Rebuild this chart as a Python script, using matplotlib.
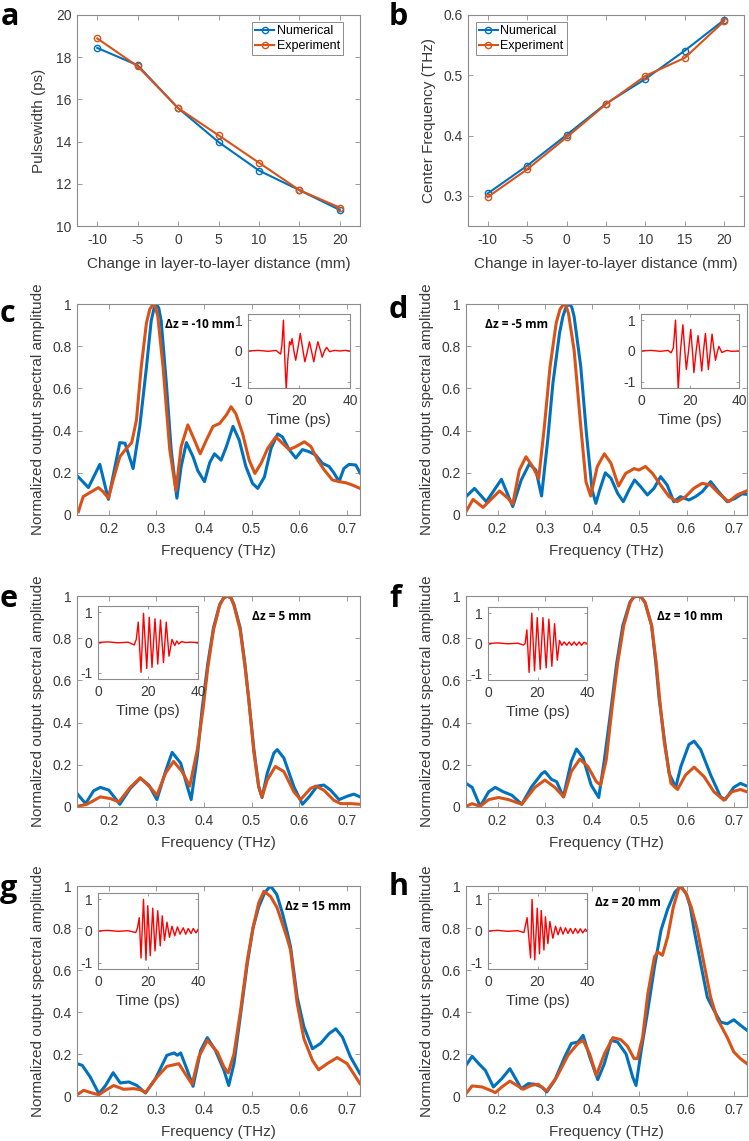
import numpy as np
import matplotlib.pyplot as plt

plt.rcParams['font.family'] = ['Liberation Sans', 'DejaVu Sans']
plt.rcParams['axes.unicode_minus'] = False

W, H = 749, 1141
BLUE = '#0072BD'
ORANGE = '#D95319'
EDGE = '#8c8c8c'
TXT = '#3a3a3a'

# ---- panel a / b: summary vs change in layer distance
dz = [-10, -5, 0, 5, 10, 15, 20]
dz_labels = ['-10', '-5', '0', '5', '10', '15', '20']
pw_num = [18.44, 17.62, 15.59, 13.98, 12.63, 11.70, 10.76]
pw_exp = [18.89, 17.57, 15.59, 14.30, 13.00, 11.70, 10.87]
cf_num = [0.304, 0.350, 0.401, 0.453, 0.494, 0.541, 0.592]
cf_exp = [0.298, 0.344, 0.397, 0.452, 0.499, 0.529, 0.590]

# ---- spectra (freq in THz, normalized amplitude)
c_num_f = [0.136, 0.157, 0.181, 0.199, 0.223, 0.234, 0.251, 0.265, 0.279, 0.289, 0.295, 0.300, 0.305, 0.310, 0.321,
           0.331, 0.343, 0.352, 0.363, 0.377, 0.387, 0.401, 0.412, 0.422, 0.436, 0.447, 0.461, 0.474, 0.488, 0.502,
           0.513, 0.527, 0.541, 0.555, 0.565, 0.579, 0.593, 0.607, 0.621, 0.635, 0.649, 0.663, 0.673, 0.684, 0.694,
           0.705, 0.719, 0.728]
c_num = [0.18, 0.13, 0.24, 0.074, 0.343, 0.34, 0.22, 0.42, 0.70, 0.92, 0.98, 1.0, 0.98, 0.92, 0.62,
         0.31, 0.08, 0.23, 0.343, 0.276, 0.21, 0.158, 0.248, 0.29, 0.26, 0.324, 0.42, 0.355, 0.23, 0.15,
         0.126, 0.18, 0.316, 0.384, 0.37, 0.31, 0.27, 0.31, 0.30, 0.284, 0.245, 0.23, 0.20, 0.158, 0.22,
         0.24, 0.237, 0.2]
c_exp_f = [0.136, 0.146, 0.160, 0.178, 0.188, 0.199, 0.209, 0.223, 0.237, 0.248, 0.258, 0.268, 0.279, 0.286, 0.293,
           0.298, 0.303, 0.314, 0.328, 0.341, 0.352, 0.366, 0.380, 0.392, 0.405, 0.419, 0.433, 0.447, 0.457, 0.467,
           0.481, 0.495, 0.507, 0.520, 0.534, 0.551, 0.565, 0.579, 0.593, 0.611, 0.625, 0.639, 0.653, 0.670, 0.684,
           0.698, 0.712, 0.728]
c_exp = [0.016, 0.087, 0.106, 0.13, 0.11, 0.08, 0.166, 0.276, 0.316, 0.343, 0.45, 0.70, 0.91, 0.975, 1.0,
         0.985, 0.94, 0.70, 0.31, 0.115, 0.324, 0.427, 0.355, 0.29, 0.355, 0.42, 0.434, 0.474, 0.513, 0.48,
         0.387, 0.26, 0.197, 0.245, 0.316, 0.37, 0.34, 0.31, 0.324, 0.347, 0.324, 0.26, 0.213, 0.166, 0.158,
         0.153, 0.142, 0.126]

d_num_f = [0.133, 0.151, 0.176, 0.208, 0.232, 0.250, 0.267, 0.281, 0.293, 0.306, 0.317, 0.331, 0.338, 0.345, 0.352,
           0.357, 0.362, 0.376, 0.388, 0.400, 0.408, 0.416, 0.428, 0.440, 0.454, 0.466, 0.478, 0.490, 0.503, 0.517,
           0.531, 0.545, 0.559, 0.573, 0.587, 0.605, 0.619, 0.633, 0.651, 0.668, 0.686, 0.703, 0.717, 0.728]
d_num = [0.087, 0.126, 0.063, 0.169, 0.04, 0.166, 0.242, 0.213, 0.09, 0.355, 0.624, 0.861, 0.94, 0.987, 1.0,
         0.985, 0.94, 0.703, 0.387, 0.118, 0.055, 0.118, 0.20, 0.174, 0.103, 0.063, 0.118, 0.166, 0.134, 0.095,
         0.126, 0.182, 0.142, 0.063, 0.087, 0.071, 0.087, 0.11, 0.158, 0.11, 0.063, 0.079, 0.10, 0.098]
d_exp_f = [0.133, 0.148, 0.169, 0.186, 0.204, 0.222, 0.232, 0.246, 0.260, 0.274, 0.287, 0.299, 0.311, 0.324, 0.332,
           0.340, 0.345, 0.350, 0.362, 0.376, 0.387, 0.397, 0.411, 0.426, 0.440, 0.456, 0.471, 0.489, 0.499, 0.513,
           0.528, 0.545, 0.563, 0.580, 0.598, 0.615, 0.633, 0.651, 0.668, 0.689, 0.707, 0.728]
d_exp = [0.016, 0.074, 0.036, 0.074, 0.114, 0.079, 0.052, 0.213, 0.276, 0.23, 0.174, 0.42, 0.703, 0.91, 0.975,
         1.0, 0.99, 0.955, 0.78, 0.42, 0.158, 0.09, 0.23, 0.29, 0.245, 0.137, 0.197, 0.22, 0.213, 0.23,
         0.197, 0.142, 0.087, 0.063, 0.087, 0.126, 0.15, 0.142, 0.103, 0.063, 0.095, 0.115]

e_num_f = [0.133, 0.151, 0.168, 0.182, 0.200, 0.223, 0.245, 0.266, 0.284, 0.301, 0.319, 0.333, 0.351, 0.365, 0.373,
           0.386, 0.396, 0.408, 0.420, 0.433, 0.441, 0.449, 0.457, 0.463, 0.476, 0.486, 0.494, 0.505, 0.515, 0.522,
           0.533, 0.547, 0.554, 0.568, 0.589, 0.607, 0.621, 0.638, 0.652, 0.666, 0.684, 0.701, 0.715, 0.728]
e_num = [0.064, 0.016, 0.077, 0.093, 0.08, 0.013, 0.088, 0.136, 0.104, 0.035, 0.168, 0.259, 0.208, 0.096, 0.035,
         0.24, 0.464, 0.68, 0.85, 0.96, 0.99, 1.0, 0.99, 0.96, 0.85, 0.68, 0.512, 0.272, 0.096, 0.045,
         0.16, 0.256, 0.272, 0.232, 0.096, 0.013, 0.048, 0.099, 0.104, 0.08, 0.035, 0.051, 0.061, 0.048]
e_exp_f = [0.133, 0.154, 0.182, 0.203, 0.221, 0.245, 0.266, 0.287, 0.301, 0.319, 0.336, 0.354, 0.370, 0.386, 0.398,
           0.408, 0.420, 0.433, 0.441, 0.449, 0.457, 0.463, 0.476, 0.486, 0.494, 0.505, 0.515, 0.522, 0.533, 0.550,
           0.568, 0.589, 0.603, 0.624, 0.635, 0.652, 0.673, 0.687, 0.708, 0.728]
e_exp = [0.003, 0.013, 0.048, 0.04, 0.024, 0.093, 0.139, 0.093, 0.056, 0.16, 0.216, 0.168, 0.099, 0.272, 0.464,
         0.66, 0.84, 0.955, 0.99, 1.0, 0.99, 0.955, 0.84, 0.67, 0.512, 0.256, 0.096, 0.048, 0.128, 0.192,
         0.168, 0.072, 0.035, 0.088, 0.099, 0.08, 0.032, 0.016, 0.016, 0.013]

f_num_f = [0.133, 0.146, 0.163, 0.181, 0.195, 0.212, 0.230, 0.251, 0.272, 0.293, 0.300, 0.314, 0.325, 0.339, 0.356,
           0.367, 0.381, 0.398, 0.414, 0.426, 0.440, 0.452, 0.465, 0.480, 0.488, 0.496, 0.504, 0.512, 0.526, 0.535,
           0.542, 0.553, 0.563, 0.577, 0.588, 0.605, 0.616, 0.630, 0.651, 0.672, 0.682, 0.700, 0.714, 0.728]
f_num = [0.112, 0.093, 0.003, 0.072, 0.093, 0.072, 0.056, 0.013, 0.096, 0.157, 0.168, 0.131, 0.12, 0.048, 0.216,
         0.275, 0.232, 0.104, 0.045, 0.224, 0.464, 0.68, 0.86, 0.97, 0.995, 1.0, 0.995, 0.97, 0.86, 0.68,
         0.512, 0.32, 0.16, 0.093, 0.192, 0.296, 0.312, 0.272, 0.152, 0.048, 0.035, 0.093, 0.112, 0.099]
f_exp_f = [0.133, 0.146, 0.163, 0.181, 0.202, 0.223, 0.251, 0.279, 0.300, 0.321, 0.340, 0.356, 0.374, 0.391, 0.409,
           0.418, 0.430, 0.442, 0.454, 0.467, 0.481, 0.488, 0.496, 0.504, 0.512, 0.526, 0.536, 0.543, 0.553, 0.567,
           0.581, 0.598, 0.616, 0.637, 0.658, 0.679, 0.696, 0.714, 0.728]
f_exp = [0.003, 0.016, 0.003, 0.035, 0.045, 0.035, 0.013, 0.093, 0.128, 0.093, 0.048, 0.168, 0.227, 0.192, 0.12,
         0.104, 0.224, 0.464, 0.68, 0.86, 0.97, 0.995, 1.0, 0.995, 0.97, 0.86, 0.68, 0.512, 0.304, 0.112,
         0.083, 0.152, 0.189, 0.144, 0.072, 0.032, 0.072, 0.083, 0.072]

g_num_f = [0.133, 0.144, 0.161, 0.179, 0.193, 0.209, 0.224, 0.242, 0.259, 0.277, 0.298, 0.322, 0.337, 0.344, 0.351,
           0.365, 0.377, 0.393, 0.407, 0.424, 0.442, 0.452, 0.463, 0.477, 0.491, 0.503, 0.515, 0.528, 0.540, 0.553,
           0.565, 0.575, 0.582, 0.596, 0.610, 0.628, 0.645, 0.663, 0.677, 0.691, 0.708, 0.728]
g_num = [0.154, 0.146, 0.09, 0.011, 0.05, 0.111, 0.062, 0.067, 0.05, 0.014, 0.083, 0.194, 0.205, 0.194, 0.205,
         0.122, 0.046, 0.217, 0.278, 0.217, 0.122, 0.05, 0.154, 0.39, 0.63, 0.8, 0.9, 0.97, 1.0, 0.96,
         0.87, 0.78, 0.71, 0.47, 0.33, 0.225, 0.25, 0.297, 0.32, 0.281, 0.186, 0.106]
g_exp_f = [0.133, 0.147, 0.165, 0.179, 0.193, 0.210, 0.231, 0.252, 0.266, 0.277, 0.301, 0.322, 0.347, 0.365, 0.375,
           0.389, 0.407, 0.428, 0.442, 0.451, 0.463, 0.477, 0.491, 0.503, 0.515, 0.526, 0.540, 0.553, 0.565, 0.575,
           0.582, 0.596, 0.610, 0.628, 0.641, 0.659, 0.680, 0.701, 0.728]
g_exp = [0.006, 0.027, 0.014, 0.006, 0.027, 0.05, 0.032, 0.035, 0.03, 0.016, 0.09, 0.141, 0.154, 0.09, 0.056,
         0.186, 0.265, 0.21, 0.138, 0.11, 0.2, 0.408, 0.646, 0.8, 0.92, 0.975, 0.95, 0.9, 0.82, 0.75,
         0.694, 0.44, 0.273, 0.17, 0.125, 0.154, 0.183, 0.154, 0.059]

h_num_f = [0.133, 0.146, 0.160, 0.174, 0.191, 0.209, 0.226, 0.240, 0.250, 0.265, 0.279, 0.293, 0.304, 0.321, 0.342,
           0.356, 0.370, 0.381, 0.395, 0.412, 0.426, 0.440, 0.454, 0.472, 0.486, 0.493, 0.504, 0.518, 0.532, 0.546,
           0.560, 0.575, 0.588, 0.600, 0.608, 0.616, 0.630, 0.644, 0.658, 0.672, 0.686, 0.700, 0.714, 0.728]
h_num = [0.146, 0.189, 0.154, 0.122, 0.043, 0.083, 0.13, 0.075, 0.035, 0.059, 0.056, 0.043, 0.019, 0.075, 0.186,
         0.25, 0.257, 0.289, 0.186, 0.078, 0.154, 0.265, 0.257, 0.2, 0.09, 0.05, 0.217, 0.408, 0.614, 0.79,
         0.89, 0.97, 1.0, 0.96, 0.9, 0.79, 0.63, 0.47, 0.408, 0.352, 0.344, 0.363, 0.337, 0.313]
h_exp_f = [0.133, 0.146, 0.167, 0.188, 0.195, 0.209, 0.226, 0.244, 0.254, 0.272, 0.286, 0.304, 0.325, 0.349, 0.370,
           0.381, 0.395, 0.409, 0.426, 0.444, 0.461, 0.475, 0.489, 0.496, 0.507, 0.518, 0.532, 0.539, 0.549, 0.560,
           0.572, 0.585, 0.598, 0.610, 0.623, 0.637, 0.651, 0.665, 0.686, 0.700, 0.714, 0.728]
h_exp = [0.011, 0.048, 0.043, 0.024, 0.016, 0.043, 0.071, 0.046, 0.032, 0.051, 0.056, 0.024, 0.09, 0.194, 0.25,
         0.265, 0.2, 0.098, 0.2, 0.278, 0.268, 0.237, 0.178, 0.178, 0.28, 0.487, 0.662, 0.686, 0.67, 0.757,
         0.9, 1.0, 0.97, 0.9, 0.79, 0.63, 0.47, 0.368, 0.28, 0.21, 0.178, 0.154]

# ---- inset time-domain pulses (time ps, normalized field)
c_t = [0, 4, 8, 11, 12.0, 12.8, 13.3, 13.9, 14.4, 15.0, 15.6, 16.3, 16.8, 17.3, 18.0, 18.7, 19.6, 20.5, 21.4,
       22.3, 23.2, 24.1, 24.9, 25.8, 26.6, 27.4, 28.3, 29.1, 30.0, 30.8, 32, 34, 36, 38, 40]
c_w = [0, 0.02, -0.01, 0.02, -0.05, -0.1, 0.2, 1.0, -0.2, -1.25, -0.3, 0.3, 0.2, 0.4, 0.0, -0.3, 0.1, 0.57, 0.1,
       -0.35, -0.05, 0.3, 0.0, -0.35, 0.0, 0.3, 0.05, -0.2, 0.0, 0.12, -0.02, 0.02, 0.0, 0.02, 0.0]
d_t = [0, 4, 8, 11, 12.3, 13.2, 14.1, 14.6, 15.2, 16.1, 17.1, 17.8, 18.5, 19.4, 20.3, 21.0, 21.6, 22.5, 23.3,
       24.0, 24.8, 25.5, 26.3, 26.9, 27.5, 28.3, 29.0, 29.7, 30.4, 31.1, 31.8, 33, 35, 37, 40]
d_w = [0, 0.02, -0.01, 0.02, -0.06, 0.1, 1.0, 0.0, -1.25, 0.0, 0.85, 0.1, -0.6, 0.0, 0.7, 0.0, -0.7, 0.0, 0.5,
       0.0, -0.65, 0.0, 0.57, 0.0, -0.6, 0.0, 0.55, 0.1, -0.3, -0.05, 0.15, -0.05, 0.02, -0.01, 0.0]
e_t = [0, 4, 8, 12, 14.5, 15.3, 16.1, 17.2, 18.2, 19.5, 20.5, 21.6, 22.8, 23.9, 25.0, 26.2, 27.3, 28.4, 29.6,
       30.7, 31.5, 32.3, 33.4, 35, 37, 40]
e_w = [0, 0.02, -0.01, 0.01, -0.08, 0.1, 0.67, -0.98, 0.96, -0.85, 0.83, -0.82, 0.78, -0.71, 0.74, -0.66, 0.67,
       -0.45, 0.1, -0.1, 0.05, -0.05, 0.03, 0.0, 0.01, 0.0]
f_t = [0, 4, 8, 12, 14.3, 15.0, 15.7, 16.6, 17.7, 18.8, 19.9, 21.1, 22.2, 23.5, 24.6, 25.8, 26.9, 28.0, 28.9,
       29.8, 30.8, 31.8, 32.8, 33.8, 34.8, 35.8, 36.8, 37.8, 38.8, 40]
f_w = [0, 0.02, -0.01, 0.01, -0.05, 0.0, 0.45, -0.95, 1.0, -0.9, 0.85, -0.85, 0.85, -0.8, 0.8, -0.75, 0.65,
       -0.55, 0.1, -0.06, 0.05, -0.06, 0.05, -0.06, 0.05, -0.06, 0.05, -0.06, 0.04, 0.0]
g_t = [0, 4, 8, 12, 15.1, 15.8, 16.5, 17.2, 18.2, 19.2, 19.9, 20.9, 21.9, 22.8, 23.9, 24.9, 25.7, 26.6, 27.6,
       28.6, 29.6, 30.7, 31.8, 32.8, 34.1, 35.1, 36.1, 37.2, 38.1, 39.2, 40]
g_w = [0, 0.02, -0.01, 0.01, -0.05, 0.1, 0.42, -0.85, 1.0, -0.92, 0.8, -0.78, 0.72, -0.63, 0.64, -0.47, 0.48,
       -0.3, 0.28, -0.2, 0.15, -0.15, 0.13, -0.1, 0.1, -0.1, 0.08, -0.08, 0.08, -0.06, 0.05]
h_t = [0, 4, 8, 12, 14.5, 15.8, 17.2, 17.8, 18.9, 19.9, 20.8, 21.5, 22.6, 23.2, 24.2, 25.0, 26.2, 27.3, 28.3,
       29.3, 30.3, 31.3, 32.3, 33.3, 34.3, 35.3, 36.3, 37.3, 38.3, 39.3, 40]
h_w = [0, 0.02, -0.01, 0.01, -0.05, 0.42, -0.85, 1.0, -0.91, 0.72, -0.72, 0.65, -0.6, 0.45, -0.4, 0.3, -0.23,
       0.15, -0.12, 0.12, -0.1, 0.1, -0.08, 0.08, -0.08, 0.08, -0.07, 0.07, -0.06, 0.06, 0.0]

spec_xticks = [0.2, 0.3, 0.4, 0.5, 0.6, 0.7]
spec_yticks = [0, 0.2, 0.4, 0.6, 0.8, 1]
spec_yticklabels = ['0', '0.2', '0.4', '0.6', '0.8', '1']


def box(left, top, right, bottom):
    """Pixel box -> figure fraction rect."""
    return [left / W, 1 - bottom / H, (right - left) / W, (bottom - top) / H]


def style(ax, size=10, pad=5):
    for s in ax.spines.values():
        s.set_color(EDGE)
        s.set_linewidth(0.8)
    ax.tick_params(direction='in', top=True, right=True, length=3.5, width=0.6,
                   color=EDGE, labelcolor=TXT, labelsize=size, pad=pad)


def letter(ch, x, y):
    fig.text(x / W, 1 - y / H, ch, fontsize=22, fontweight='bold', family='Open Sans',
             va='baseline', ha='left', color='black')


def add_legend(ax, loc, anchor):
    leg = ax.legend(loc=loc, bbox_to_anchor=(anchor[0] / W, 1 - anchor[1] / H),
                    bbox_transform=fig.transFigure, borderaxespad=0, fontsize=9,
                    handlelength=1.5, handletextpad=0.2, labelspacing=0.25, borderpad=0.25,
                    fancybox=False, framealpha=1)
    leg.get_frame().set_edgecolor(EDGE)
    leg.get_frame().set_linewidth(0.7)


def spectrum(px, fn, vn, fe, ve, tag, tag_xy, inset_px, t, w):
    ax = fig.add_axes(box(*px))
    ax.plot(fn, vn, color=BLUE, lw=2.2, solid_joinstyle='round')
    ax.plot(fe, ve, color=ORANGE, lw=2.2, solid_joinstyle='round')
    ax.set_xlim(0.133, 0.728)
    ax.set_ylim(0, 1)
    ax.set_xticks(spec_xticks)
    ax.set_xticklabels([f'{v:g}' for v in spec_xticks])
    ax.set_yticks(spec_yticks)
    ax.set_yticklabels(spec_yticklabels)
    style(ax)
    ax.tick_params(axis='y', pad=4)
    ax.set_xlabel('Frequency (THz)', fontsize=11, color=TXT, labelpad=6)
    ax.set_ylabel('Normalized output spectral amplitude', fontsize=11, color=TXT, labelpad=5)
    fig.text(tag_xy[0] / W, 1 - tag_xy[1] / H, tag, fontsize=8.5, fontweight='bold',
             family=['Open Sans', 'DejaVu Sans'], va='center', ha='left')

    ins = fig.add_axes(box(*inset_px))
    ins.plot(t, w, color='red', lw=1.0)
    ins.set_xlim(0, 40)
    ins.set_ylim(-1.2, 1.2)
    ins.set_xticks([0, 20, 40])
    ins.set_yticks([-1, 0, 1])
    ins.set_yticklabels(['-1', '0', '1'])
    style(ins, pad=4)
    ins.tick_params(length=2.5)
    ins.set_xlabel('Time (ps)', fontsize=11, color=TXT, labelpad=4)
    return ax


fig = plt.figure(figsize=(W / 100, H / 100), dpi=100)

# a
ax = fig.add_axes(box(77, 15, 360, 226))
ax.plot(dz, pw_num, color=BLUE, lw=1.5, marker='o', ms=4.5, mfc='none', mew=1.0, label='Numerical')
ax.plot(dz, pw_exp, color=ORANGE, lw=1.5, marker='o', ms=4.5, mfc='none', mew=1.0, label='Experiment')
ax.set_xlim(-12.5, 22.5)
ax.set_ylim(10, 20)
ax.set_xticks(dz)
ax.set_xticklabels(dz_labels)
ax.set_yticks([10, 12, 14, 16, 18, 20])
style(ax)
ax.tick_params(axis='y', pad=4)
ax.set_xlabel('Change in layer-to-layer distance (mm)', fontsize=11, color=TXT, labelpad=7)
ax.set_ylabel('Pulsewidth (ps)', fontsize=11, color=TXT, labelpad=7)
add_legend(ax, 'upper right', (343, 22))

# b
ax = fig.add_axes(box(468, 15, 744, 226))
ax.plot(dz, cf_num, color=BLUE, lw=1.5, marker='o', ms=4.5, mfc='none', mew=1.0, label='Numerical')
ax.plot(dz, cf_exp, color=ORANGE, lw=1.5, marker='o', ms=4.5, mfc='none', mew=1.0, label='Experiment')
ax.set_xlim(-12.5, 22.5)
ax.set_ylim(0.25, 0.6)
ax.set_xticks(dz)
ax.set_xticklabels(dz_labels)
ax.set_yticks([0.3, 0.4, 0.5, 0.6])
style(ax)
ax.tick_params(axis='y', pad=4)
ax.set_xlabel('Change in layer-to-layer distance (mm)', fontsize=11, color=TXT, labelpad=7)
ax.set_ylabel('Center Frequency (THz)', fontsize=11, color=TXT, labelpad=5)
add_legend(ax, 'upper left', (476, 22))

# c - h
spectrum((77, 304, 360, 515), c_num_f, c_num, c_exp_f, c_exp, 'Δz = -10 mm', (165, 325),
         (248, 314, 350, 388), c_t, c_w)
spectrum((466, 304, 747, 515), d_num_f, d_num, d_exp_f, d_exp, 'Δz = -5 mm', (485, 325),
         (641, 314, 739, 388), d_t, d_w)
spectrum((77, 596, 360, 807), e_num_f, e_num, e_exp_f, e_exp, 'Δz = 5 mm', (252, 617),
         (98, 606, 198, 679), e_t, e_w)
spectrum((466, 596, 747, 807), f_num_f, f_num, f_exp_f, f_exp, 'Δz = 10 mm', (657, 617),
         (488, 607, 587, 680), f_t, f_w)
spectrum((77, 886, 360, 1096), g_num_f, g_num, g_exp_f, g_exp, 'Δz = 15 mm', (285, 907),
         (98, 893, 198, 969), g_t, g_w)
spectrum((466, 886, 747, 1096), h_num_f, h_num, h_exp_f, h_exp, 'Δz = 20 mm', (595, 902),
         (488, 893, 587, 969), h_t, h_w)

letter('a', 1, 25)
letter('b', 389, 25)
letter('c', 0, 322)
letter('d', 389, 318)
letter('e', 0, 607)
letter('f', 389, 607)
letter('g', 0, 897)
letter('h', 389, 895)

fig.savefig('out.png', dpi=100)
